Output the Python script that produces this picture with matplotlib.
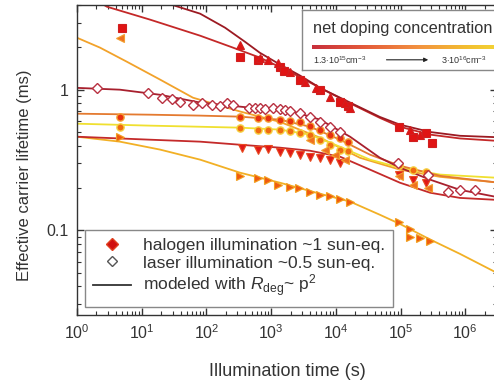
import numpy as np
import matplotlib
matplotlib.use("Agg")
import matplotlib.pyplot as plt
from matplotlib.lines import Line2D
from matplotlib.ticker import LogLocator, FixedLocator, FixedFormatter, NullFormatter
from matplotlib.colors import LinearSegmentedColormap

plt.rcParams['font.family'] = ['Liberation Sans', 'DejaVu Sans']
plt.rcParams['mathtext.fontset'] = 'custom'
plt.rcParams['mathtext.rm'] = 'Liberation Sans'
plt.rcParams['mathtext.it'] = 'Liberation Sans:italic'
plt.rcParams['mathtext.bf'] = 'Liberation Sans:bold'

# ---------------- data ----------------
# model curves: (time in s, lifetime in ms)
line_red_t = [2.27, 2.9, 13.4, 80, 258, 670, 1960, 5700, 16600, 48000, 98000, 288000, 830000, 2.8e6]
line_red_y = [4.16, 3.89, 3.15, 2.42, 1.99, 1.69, 1.34, 1.03, 0.80, 0.63, 0.545, 0.479, 0.45, 0.434]

line_dred_t = [22.9, 80, 194, 395, 670, 1370, 2800, 5700, 16600, 48000, 98000, 288000, 830000, 2.8e6]
line_dred_y = [4.16, 3.47, 2.76, 2.19, 1.83, 1.51, 1.26, 1.03, 0.81, 0.64, 0.564, 0.50, 0.47, 0.46]

line_steep_t = [1, 2.27, 5.9, 19.2, 62, 330, 1370, 5700, 23600, 98000, 410000, 2.8e6]
line_steep_y = [2.34, 1.99, 1.58, 1.18, 0.877, 0.70, 0.59, 0.456, 0.328, 0.27, 0.24, 0.22]

line_laser_t = [1, 4.6, 19.2, 80, 472, 1960, 5700, 16600, 48000, 98000, 288000, 830000, 2.8e6]
line_laser_y = [1.03, 1.0, 0.92, 0.81, 0.745, 0.71, 0.612, 0.463, 0.328, 0.279, 0.229, 0.194, 0.174]

line_orange_t = [1, 13.4, 80, 330, 1370, 4000, 11600, 33800, 98000, 410000, 2.8e6]
line_orange_y = [0.675, 0.664, 0.654, 0.643, 0.612, 0.545, 0.441, 0.345, 0.288, 0.244, 0.22]

line_yellow_t = [1, 13.4, 80, 330, 1370, 4000, 11600, 33800, 98000, 410000, 2.8e6]
line_yellow_y = [0.573, 0.555, 0.545, 0.537, 0.52, 0.479, 0.393, 0.318, 0.279, 0.249, 0.237]

line_tdown_t = [1, 13.4, 80, 330, 1370, 4000, 11600, 33800, 98000, 288000, 830000, 2.8e6]
line_tdown_y = [0.463, 0.441, 0.427, 0.406, 0.387, 0.368, 0.334, 0.270, 0.218, 0.185, 0.17, 0.165]

line_tright_t = [1, 4.6, 19.2, 80, 330, 1370, 5700, 16600, 48000, 98000, 288000, 830000, 2.8e6]
line_tright_y = [0.463, 0.427, 0.375, 0.318, 0.257, 0.218, 0.182, 0.16, 0.129, 0.111, 0.086, 0.068, 0.051]

# measured points
sq_t = [5, 330, 630, 1370, 1600, 2800, 5700, 11600, 15400, 94000, 155000, 245000, 310000]
sq_y = [2.76, 1.72, 1.63, 1.46, 1.36, 1.18, 1.0, 0.82, 0.77, 0.54, 0.46, 0.49, 0.42]

tup_t = [330, 670, 900, 1260, 1960, 3400, 4900, 8100, 14000, 16600, 142000, 200000]
tup_y = [2.09, 1.69, 1.63, 1.56, 1.34, 1.14, 1.03, 0.89, 0.80, 0.74, 0.52, 0.48]

tleft_t = [4.6, 4000, 6900, 9600, 13800, 94000, 155000, 270000]
tleft_y = [2.34, 0.441, 0.375, 0.345, 0.318, 0.245, 0.211, 0.20]

dia_t = [2.04, 12.5, 20.6, 29.4, 39, 62, 85, 122, 162, 208, 258, 455, 564, 670, 805, 1070,
         1370, 1640, 1960, 2800, 4000, 5700, 8100, 11600, 91000, 266000, 542000, 830000, 1.42e6]
dia_y = [1.03, 0.94, 0.877, 0.863, 0.82, 0.78, 0.81, 0.78, 0.76, 0.81, 0.78, 0.745, 0.745, 0.745, 0.73, 0.745,
         0.73, 0.72, 0.71, 0.686, 0.64, 0.59, 0.545, 0.50, 0.30, 0.249, 0.188, 0.194, 0.194]

circA_t = [4.6, 330, 630, 900, 1370, 1960, 2800, 4000, 5700, 8100, 11600, 15400]
circA_y = [0.643, 0.643, 0.632, 0.632, 0.612, 0.60, 0.59, 0.555, 0.52, 0.479, 0.456, 0.427]

circB_t = [4.6, 330, 630, 900, 1370, 1960, 2800, 4000, 5700, 8100, 11600, 15400, 94000, 155000, 245000]
circB_y = [0.545, 0.537, 0.52, 0.52, 0.52, 0.51, 0.494, 0.479, 0.441, 0.406, 0.375, 0.364, 0.293, 0.270, 0.261]

tdown_t = [355, 630, 900, 1370, 1960, 2800, 4000, 5700, 8100, 11600, 94000, 155000, 245000]
tdown_y = [0.387, 0.375, 0.381, 0.362, 0.356, 0.345, 0.334, 0.328, 0.318, 0.30, 0.249, 0.229, 0.218]

tright_t = [4.6, 330, 630, 900, 1260, 1960, 2700, 4000, 5700, 8100, 11600, 16600, 94000, 142000, 142000, 200000, 288000]
tright_y = [0.463, 0.245, 0.237, 0.229, 0.211, 0.203, 0.199, 0.188, 0.179, 0.174, 0.168, 0.16, 0.115, 0.102, 0.089, 0.088, 0.084]

x_ticks = [1, 10, 100, 1e3, 1e4, 1e5, 1e6]
x_ticklabels = [r'$10^0$', r'$10^1$', r'$10^2$', r'$10^3$', r'$10^4$', r'$10^5$', r'$10^6$']
y_ticks = [0.1, 1]
y_ticklabels = ['0.1', '1']

legend_labels = ['halogen illumination ~1 sun-eq.',
                 'laser illumination ~0.5 sun-eq.',
                 r'modeled with $R_{\mathrm{deg}}$~ p$^2$']
doping_title = 'net doping concentration'
doping_low = r'1.3$\cdot$10$^{15}$cm$^{-3}$'
doping_high = r'3$\cdot$10$^{16}$cm$^{-3}$'

# ---------------- figure ----------------
fig = plt.figure(figsize=(4.94, 3.84), dpi=100)
ax = fig.add_axes([77/494, 1-315/384, 420/494, 310/384])
ax.set_xscale('log')
ax.set_yscale('log')
ax.set_xlim(1, 3.1e6)
ax.set_ylim(0.025, 4)

lw = 1.3
ax.plot(line_steep_t, line_steep_y, color='#f2a22a', lw=lw, zorder=2)
ax.plot(line_tright_t, line_tright_y, color='#f2b025', lw=lw, zorder=2)
ax.plot(line_yellow_t, line_yellow_y, color='#f0e030', lw=lw, zorder=2)
ax.plot(line_orange_t, line_orange_y, color='#e47a30', lw=lw, zorder=2)
ax.plot(line_tdown_t, line_tdown_y, color='#c42a2a', lw=lw, zorder=2)
ax.plot(line_laser_t, line_laser_y, color='#a8202e', lw=lw, zorder=2)
ax.plot(line_red_t, line_red_y, color='#c42828', lw=lw, zorder=2)
ax.plot(line_dred_t, line_dred_y, color='#9c1a22', lw=lw, zorder=2)

ms = 5.2
ax.plot(tright_t, tright_y, ls='none', marker='>', ms=ms, mfc='#f05a10', mec='#f2a020', mew=0.8, zorder=3)
ax.plot(tdown_t, tdown_y, ls='none', marker='v', ms=ms, mfc='#e01818', mec='#e84a20', mew=0.8, zorder=3)
ax.plot(circB_t, circB_y, ls='none', marker='o', ms=ms, mfc='#f06a10', mec='#f5d040', mew=1.0, zorder=3)
ax.plot(circA_t, circA_y, ls='none', marker='o', ms=ms, mfc='#e83010', mec='#f5a030', mew=1.0, zorder=3)
ax.plot(tleft_t, tleft_y, ls='none', marker='<', ms=ms, mfc='#f07020', mec='#f2a030', mew=0.8, zorder=3)
ax.plot(dia_t, dia_y, ls='none', marker='D', ms=4.6, mfc='white', mec='#b83040', mew=1.0, zorder=4)
ax.plot(sq_t, sq_y, ls='none', marker='s', ms=ms, mfc='#e01414', mec='#d02020', mew=0.8, zorder=3)
ax.plot(tup_t, tup_y, ls='none', marker='^', ms=ms+0.5, mfc='#e01414', mec='#d02020', mew=0.8, zorder=3)

# axes styling
for s in ax.spines.values():
    s.set_color('#333333')
    s.set_linewidth(1.0)
ax.xaxis.set_major_locator(FixedLocator(x_ticks))
ax.xaxis.set_major_formatter(FixedFormatter(x_ticklabels))
ax.xaxis.set_minor_locator(LogLocator(base=10, subs=np.arange(2, 10)))
ax.xaxis.set_minor_formatter(NullFormatter())
ax.yaxis.set_major_locator(FixedLocator(y_ticks))
ax.yaxis.set_major_formatter(FixedFormatter(y_ticklabels))
ax.yaxis.set_minor_locator(LogLocator(base=10, subs=np.arange(2, 10)))
ax.yaxis.set_minor_formatter(NullFormatter())
ax.tick_params(which='both', direction='in', top=True, right=True, color='#333333')
ax.tick_params(which='major', length=5, width=1.0, labelsize=11.5, colors='#333333', pad=6)
ax.tick_params(which='minor', length=3, width=0.8)
ax.set_xlabel('Illumination time (s)', fontsize=13, color='#333333', labelpad=15)
ax.set_ylabel('Effective carrier lifetime (ms)', fontsize=12, color='#333333', labelpad=16)
ax.yaxis.set_label_coords(-0.108, 0.45)

# lower-left legend
handles = [Line2D([], [], ls='none', marker='D', ms=6, mfc='#d01010', mec='#e04020', mew=1.0),
           Line2D([], [], ls='none', marker='D', ms=5, mfc='white', mec='#555555', mew=1.0),
           Line2D([], [], color='#333333', lw=1.3)]
leg = ax.legend(handles, legend_labels, loc='lower left', bbox_to_anchor=(0.019, 0.026),
                borderaxespad=0, fontsize=12.5, frameon=True, fancybox=False, edgecolor='#888888',
                handlelength=2.2, handletextpad=0.7, labelspacing=0.12, borderpad=0.45,
                framealpha=1)
leg.get_frame().set_linewidth(1.0)
for t in leg.get_texts():
    t.set_color('#333333')

# top-right doping legend
lg = fig.add_axes([302/494, 1-70/384, 215/494, 60/384])
lg.set_xlim(0, 1)
lg.set_ylim(0, 1)
lg.set_xticks([])
lg.set_yticks([])
for s in lg.spines.values():
    s.set_color('#888888')
    s.set_linewidth(1.0)
lg.text(0.052, 0.70, doping_title, fontsize=11.8, color='#333333', va='center', ha='left')
cmap = LinearSegmentedColormap.from_list('dop', ['#c8303c', '#e45a3a', '#f29040', '#f3c030', '#f2e23a'])
grad = np.linspace(0, 1, 256).reshape(1, -1)
lg.imshow(grad, cmap=cmap, aspect='auto', extent=(0.047, 1.02, 0.35, 0.41))
lg.text(0.052, 0.17, doping_low, fontsize=6.5, color='#333333', va='center', ha='left')
lg.annotate('', xy=(0.6, 0.17), xytext=(0.38, 0.17),
            arrowprops=dict(arrowstyle='-|>', color='#222222', lw=0.8, mutation_scale=6))
lg.text(0.645, 0.17, doping_high, fontsize=6.5, color='#333333', va='center', ha='left')

fig.savefig('out.png', dpi=100)
